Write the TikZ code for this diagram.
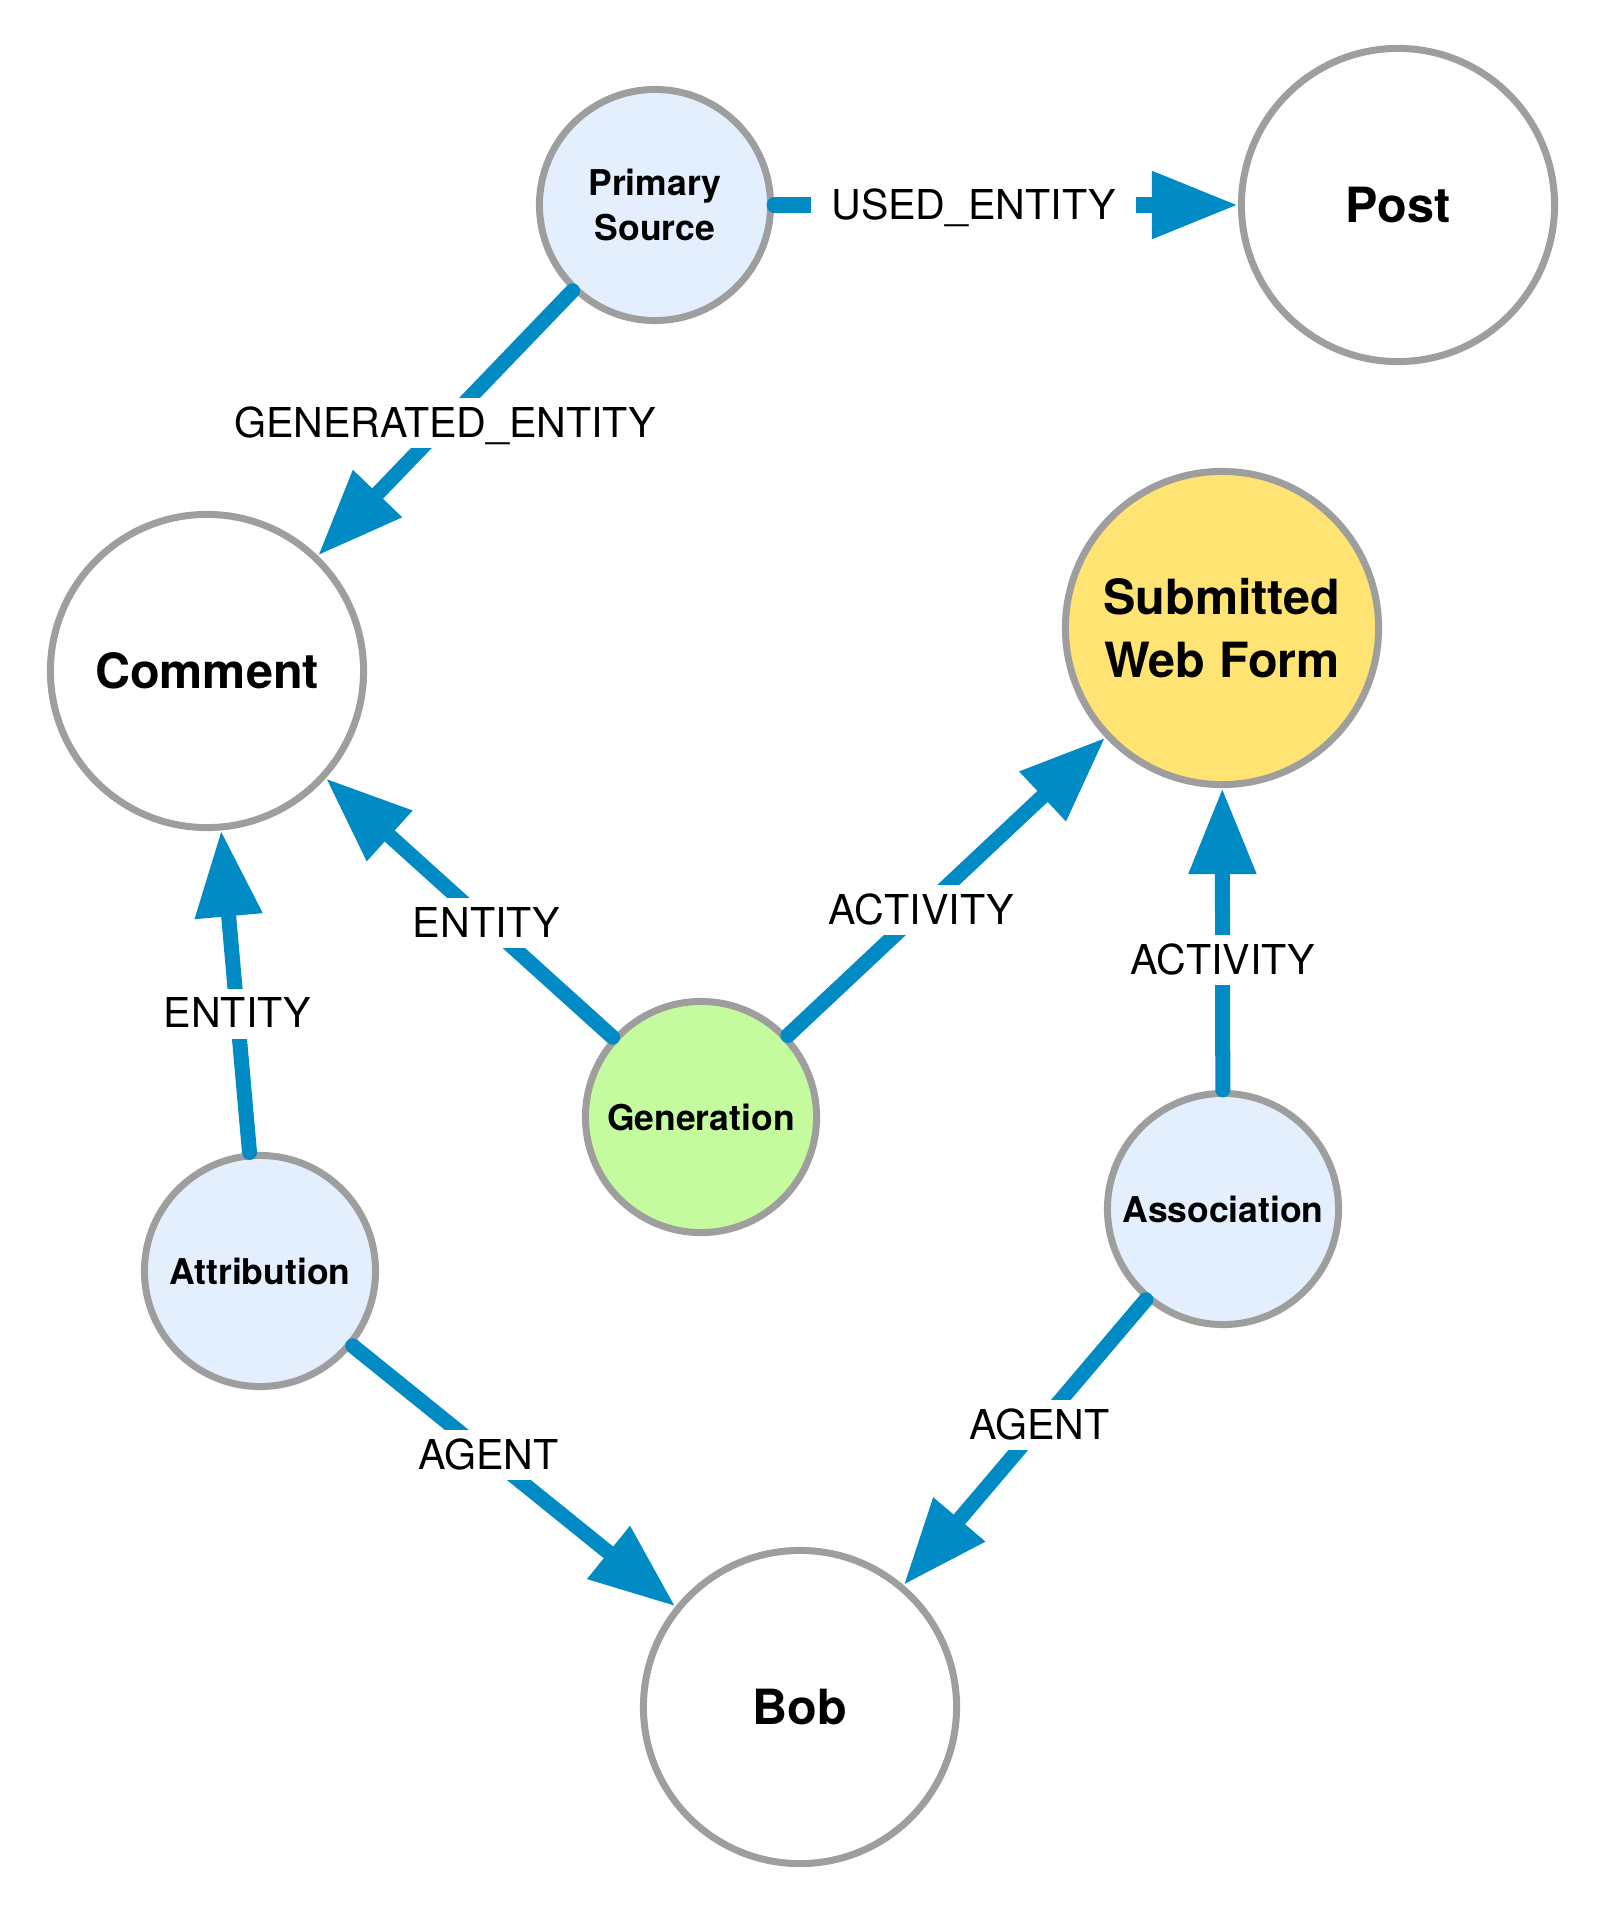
\documentclass[tikz,border=0pt]{standalone}
\usepackage{fontspec}
\setmainfont{TeX Gyre Heros}
\usetikzlibrary{arrows.meta}
\definecolor{edgeblue}{HTML}{008BC4}
\definecolor{ringgray}{HTML}{9E9E9E}
\definecolor{paleblue}{HTML}{E4EFFE}
\definecolor{palegreen}{HTML}{C5FB9F}
\definecolor{paleyellow}{HTML}{FFE474}

\begin{document}
\begin{tikzpicture}[x=0.01cm,y=-0.01cm,->,>={Triangle[length=0.86cm,width=0.64cm]},
  line cap=round,
  every edge/.style={draw=edgeblue,line width=0.15cm},
  big node/.style={circle,draw=ringgray,line width=0.07cm,fill=white,inner sep=0pt,
    minimum size=3.13cm,align=center,font=\fontsize{13.8}{17.9}\selectfont\bfseries},
  small node/.style={circle,draw=ringgray,line width=0.07cm,fill=paleblue,inner sep=0pt,
    minimum size=2.31cm,align=center,font=\fontsize{10.1}{12.8}\selectfont\bfseries}]

  \useasboundingbox (0,0) rectangle (1599,1912);

  \node[small node] (1) at (655,205) {Primary\\Source};
  \node[big node] (2) at (1398,205) {Post};
  \node[big node] (3) at (207,671) {Comment};
  \node[big node,fill=paleyellow] (4) at (1222,628) {Submitted\\Web Form};
  \node[small node,fill=palegreen] (5) at (701,1117) {Generation};
  \node[small node] (6) at (260,1271) {Attribution};
  \node[small node] (7) at (1223,1209) {Association};
  \node[big node] (8) at (800,1707) {Bob};

  \path[every node/.style={fill=white,inner xsep=0.2cm,inner ysep=0.09cm,
      text height=0.3cm,text depth=0.02cm,font=\fontsize{11.7}{14}\selectfont}]
    (1) edge node[pos=0.43] {USED\_ENTITY} (2)
    (1) edge node[pos=0.5] {GENERATED\_ENTITY} (3)
    (5) edge node[pos=0.44] {ENTITY} (3)
    (5) edge node[pos=0.42] {ACTIVITY} (4)
    (6) edge node[pos=0.43] {ENTITY} (3)
    (6) edge node[pos=0.42] {AGENT} (8)
    (7) edge node[pos=0.43] {ACTIVITY} (4)
    (7) edge node[pos=0.44] {AGENT} (8);
\end{tikzpicture}
\end{document}
